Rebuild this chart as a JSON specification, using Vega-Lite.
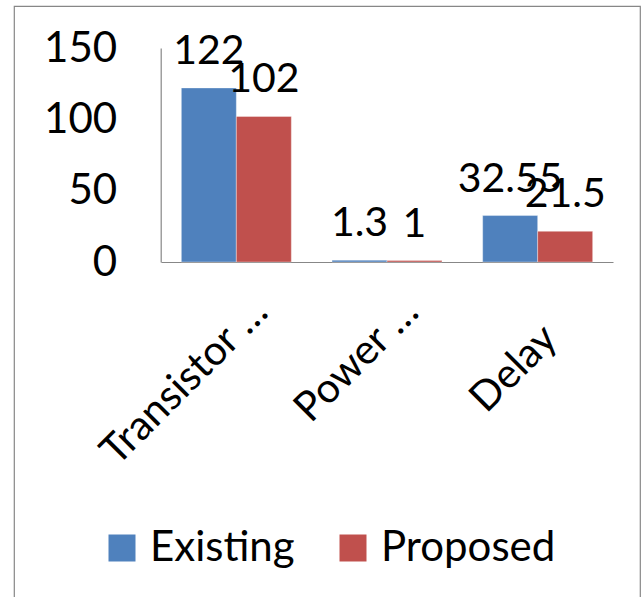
{
  "$schema": "https://vega.github.io/schema/vega-lite/v6.json",
  "autosize": "none",
  "width": 626,
  "height": 600,
  "padding": {"left": 14, "top": 6, "right": 3, "bottom": 0},
  "background": "white",
  "data": {
    "values": [
      {"category": "Transistor …", "series": "Existing", "value": 122},
      {"category": "Transistor …", "series": "Proposed", "value": 102},
      {"category": "Power …", "series": "Existing", "value": 1.3},
      {"category": "Power …", "series": "Proposed", "value": 1},
      {"category": "Delay", "series": "Existing", "value": 32.55},
      {"category": "Delay", "series": "Proposed", "value": 21.5}
    ]
  },
  "encoding": {
    "x": {
      "field": "category",
      "type": "nominal",
      "sort": null,
      "scale": {"range": [147, 599], "paddingInner": 0.27, "paddingOuter": 0.135},
      "axis": {
        "title": null,
        "offset": -344,
        "domainColor": "#878787",
        "domainWidth": 1.2,
        "ticks": false,
        "labelAngle": -45,
        "labelAlign": "right",
        "labelBaseline": "top",
        "labelFont": "Lato",
        "labelFontSize": 41,
        "labelColor": "#000000",
        "labelLimit": 0,
        "labelOverlap": false,
        "labelBound": false,
        "labelFlush": false,
        "labelOffset": {"condition": {"test": "datum.value === 'Delay'", "value": -1}, "value": 11},
        "labelPadding": {"condition": {"test": "datum.value === 'Delay'", "value": 56}, "value": 29}
      }
    },
    "xOffset": {"field": "series", "type": "nominal", "scale": {"paddingInner": 0, "paddingOuter": 0}},
    "y": {
      "field": "value",
      "type": "quantitative",
      "scale": {"domain": [0, 150], "range": [256, 42], "nice": false, "zero": true},
      "axis": {
        "title": null,
        "offset": -146.7,
        "values": [0, 50, 100, 150],
        "grid": false,
        "ticks": false,
        "domainColor": "#878787",
        "domainWidth": 1.2,
        "labelFont": "Lato",
        "labelFontSize": 42,
        "labelColor": "#000000",
        "labelPadding": 44,
        "labelBaseline": "middle"
      }
    }
  },
  "layer": [
    {
      "mark": {"type": "bar", "stroke": "#ffffff", "strokeOpacity": 0.35, "strokeWidth": 1},
      "encoding": {
        "color": {
          "field": "series",
          "type": "nominal",
          "scale": {"domain": ["Existing", "Proposed"], "range": ["#4F81BD", "#C0504D"]},
          "legend": {
            "title": null,
            "orient": "none",
            "direction": "horizontal",
            "legendX": 87,
            "legendY": 521,
            "padding": 0,
            "symbolType": "square",
            "symbolSize": 729,
            "symbolStrokeWidth": 0,
            "symbolOpacity": 1,
            "labelFont": "Lato",
            "labelFontSize": 42,
            "labelColor": "#000000",
            "labelOffset": 7,
            "columnPadding": 37,
            "labelLimit": 0
          }
        }
      }
    },
    {
      "mark": {"type": "text", "font": "Lato", "fontSize": 41, "color": "#000000", "align": "center", "baseline": "alphabetic", "dy": -24},
      "encoding": {
        "text": {"field": "value", "type": "quantitative", "format": "~g"}
      }
    }
  ],
  "config": {
    "view": {"stroke": "#878787", "strokeWidth": 1.2, "fill": "white"}
  }
}
